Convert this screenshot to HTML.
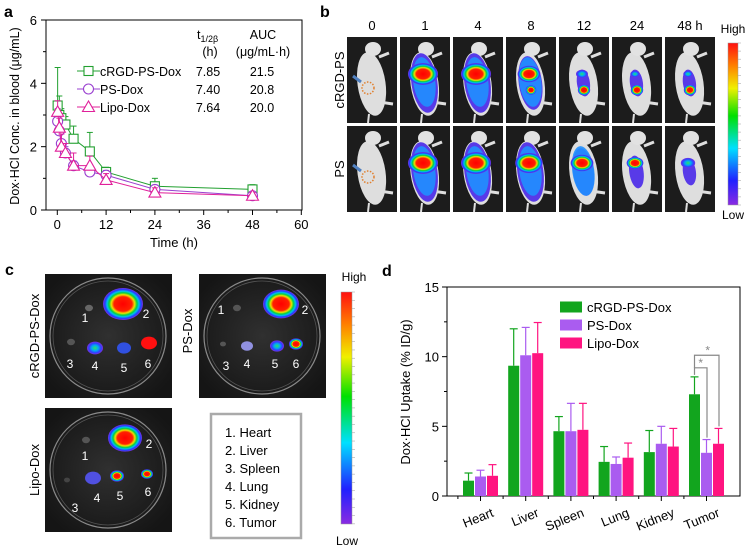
<!DOCTYPE html>
<html><head><meta charset="utf-8">
<style>
html,body{margin:0;padding:0;background:#fff;}
svg{display:block;font-family:"Liberation Sans",Arial,sans-serif;}
</style></head>
<body>
<svg id="fig" width="752" height="549" viewBox="0 0 752 549" xmlns="http://www.w3.org/2000/svg">
<defs>
 <linearGradient id="cbar" x1="0" y1="1" x2="0" y2="0">
  <stop offset="0" stop-color="#8a2be2"/><stop offset="0.15" stop-color="#2020ff"/>
  <stop offset="0.35" stop-color="#00e0ff"/><stop offset="0.55" stop-color="#00e000"/>
  <stop offset="0.72" stop-color="#f0f000"/><stop offset="0.86" stop-color="#ff8000"/>
  <stop offset="1" stop-color="#ff1010"/>
 </linearGradient>
 <radialGradient id="heat" cx="0.5" cy="0.5" r="0.5">
  <stop offset="0" stop-color="#ff0000"/><stop offset="0.45" stop-color="#ff2000"/>
  <stop offset="0.58" stop-color="#f0e000"/><stop offset="0.7" stop-color="#00d040"/>
  <stop offset="0.8" stop-color="#00c0f0"/><stop offset="0.9" stop-color="#2040ff"/>
  <stop offset="1" stop-color="#7a30e0"/>
 </radialGradient>
 <radialGradient id="heatlow" cx="0.5" cy="0.5" r="0.5">
  <stop offset="0" stop-color="#30e060"/><stop offset="0.4" stop-color="#00b0f0"/>
  <stop offset="0.75" stop-color="#3040ff"/><stop offset="1" stop-color="#7a30e0"/>
 </radialGradient>
 <radialGradient id="dishbg" cx="0.5" cy="0.5" r="0.6">
  <stop offset="0" stop-color="#303030"/><stop offset="1" stop-color="#151515"/>
 </radialGradient>
</defs>

<text x="4" y="17" font-size="16" font-weight="bold">a</text>
<text x="320" y="17" font-size="16" font-weight="bold">b</text>
<text x="5" y="275" font-size="16" font-weight="bold">c</text>
<text x="382" y="276" font-size="16" font-weight="bold">d</text>

<g id="panelA"></g>
<g id="panelB"></g>
<g id="panelC"></g>
<g id="panelD"></g>
</svg>

<script>
// ---------- Panel A data ----------
const timesA = [0.083, 0.5, 1, 2, 4, 8, 12, 24, 48];
const cRGDConc = [3.3, 3.0, 2.9, 2.7, 2.25, 1.85, 1.2, 0.75, 0.65];
const cRGDErr  = [1.2, 0.6, 0.3, 0.25, 0.4, 0.6, 0.15, 0.25, 0.15];
const psConc   = [2.8, 2.5, 2.1, 1.8, 1.4, 1.2, 1.1, 0.65, 0.45];
const psErr    = [0.4, 0.3, 0.3, 0.2, 0.15, 0.2, 0.15, 0.1, 0.1];
const lipoConc = [3.1, 2.6, 2.0, 1.8, 1.4, 1.4, 0.95, 0.55, 0.45];
const lipoErr  = [0.35, 0.3, 0.4, 0.3, 0.4, 0.3, 0.2, 0.15, 0.1];
const xTicksA = [0, 12, 24, 36, 48, 60];
const yTicksA = [0, 2, 4, 6];
const namesA = ["cRGD-PS-Dox", "PS-Dox", "Lipo-Dox"];
const halfLife = ["7.85", "7.40", "7.64"];
const aucVals = ["21.5", "20.8", "20.0"];

// ---------- Panel D data ----------
const organs = ["Heart", "Liver", "Spleen", "Lung", "Kidney", "Tumor"];
const cRGDUptake = [1.1, 9.35, 4.65, 2.45, 3.15, 7.3];
const cRGDUpErr  = [0.55, 2.65, 1.05, 1.1, 1.55, 1.25];
const psUptake   = [1.4, 10.1, 4.65, 2.3, 3.75, 3.1];
const psUpErr    = [0.45, 2.0, 2.0, 0.5, 1.25, 0.95];
const lipoUptake = [1.45, 10.25, 4.75, 2.75, 3.55, 3.75];
const lipoUpErr  = [0.8, 2.2, 1.9, 1.05, 1.3, 1.1];
const yTicksD = [0, 5, 10, 15];
const namesD = ["cRGD-PS-Dox", "PS-Dox", "Lipo-Dox"];

const NS = "http://www.w3.org/2000/svg";
function mk(parent, tag, attrs, text) {
  const e = document.createElementNS(NS, tag);
  for (const k in attrs) e.setAttribute(k, attrs[k]);
  if (text !== undefined) e.textContent = text;
  parent.appendChild(e);
  return e;
}

// ================= Panel A =================
(function(){
  const g = document.getElementById('panelA');
  const x = t => 57.3 + t * (48.8 / 12);
  const y = v => 210 - v * (190 / 6);
  const frame = mk(g, 'rect', {x:46, y:20, width:256, height:190, fill:'none', stroke:'#000', 'stroke-width':1});
  
  
  yTicksA.forEach(v => {
    mk(g,'line',{x1:46,x2:41,y1:y(v),y2:y(v),stroke:'#000'});
    const t = mk(g,'text',{x:37,y:y(v)+5,'font-size':13,'text-anchor':'end'}, String(v));
    
    
  });
  [1,3,5].forEach(v => mk(g,'line',{x1:46,x2:43,y1:y(v),y2:y(v),stroke:'#000'}));
  xTicksA.forEach(v => {
    mk(g,'line',{x1:x(v),x2:x(v),y1:210,y2:215,stroke:'#000'});
    const t = mk(g,'text',{x:x(v),y:229,'font-size':13,'text-anchor':'middle'}, String(v));
    
    
  });
  [6,18,30,42,54].forEach(v => mk(g,'line',{x1:x(v),x2:x(v),y1:210,y2:213,stroke:'#000'}));
  const xt = mk(g,'text',{x:174,y:247,'font-size':13,'text-anchor':'middle'},'Time (h)');
  
  
  const yt = mk(g,'text',{x:0,y:0,'font-size':12.5,'text-anchor':'middle',transform:'translate(19,116) rotate(-90)'},'Dox·HCl Conc. in blood (μg/mL)');
  
  

  const series = [
    {vals:cRGDConc, err:cRGDErr, color:'#22a030', mark:'square'},
    {vals:psConc, err:psErr, color:'#9a40d0', mark:'circle'},
    {vals:lipoConc, err:lipoErr, color:'#e0209a', mark:'triangle'}
  ];
  function marker(gp, m, cx, cy, color) {
    if (m==='square') return mk(gp,'rect',{x:cx-4.5,y:cy-4.5,width:9,height:9,fill:'#fff',stroke:color,'stroke-width':1.1});
    if (m==='circle') return mk(gp,'circle',{cx:cx,cy:cy,r:5,fill:'#fff',stroke:color,'stroke-width':1.1});
    return mk(gp,'polygon',{points:`${cx},${cy-6} ${cx-6},${cy+4.5} ${cx+6},${cy+4.5}`,fill:'#fff',stroke:color,'stroke-width':1.1});
  }
  series.forEach((s, si) => {
    const gp = mk(g,'g',{});
    
    
    const pts = timesA.map((t,i)=>x(t)+','+y(s.vals[i])).join(' ');
    mk(gp,'polyline',{points:pts,fill:'none',stroke:s.color,'stroke-width':1});
    timesA.forEach((t,i)=>{
      const top = y(s.vals[i]+s.err[i]);
      mk(gp,'line',{x1:x(t),x2:x(t),y1:y(s.vals[i]),y2:top,stroke:s.color});
      mk(gp,'line',{x1:x(t)-3,x2:x(t)+3,y1:top,y2:top,stroke:s.color});
    });
    timesA.forEach((t,i)=>{
      const p = marker(gp, s.mark, x(t), y(s.vals[i]), s.color);
      
      
    });
    const ly = 71 + si*18;
    const le = mk(g,'g',{});
    
    
    mk(le,'line',{x1:77,x2:100,y1:ly,y2:ly,stroke:s.color});
    marker(le, s.mark, 88.5, ly, s.color);
    mk(le,'text',{x:100,y:ly+5,'font-size':12.5},namesA[si]);
    mk(le,'text',{x:208,y:ly+5,'font-size':12.5,'text-anchor':'middle'},halfLife[si]);
    mk(le,'text',{x:262,y:ly+5,'font-size':12.5,'text-anchor':'middle'},aucVals[si]);
  });
  const h1 = mk(g,'text',{x:197,y:39,'font-size':12.5},'');
  h1.innerHTML = 't<tspan font-size="9" dy="3">1/2β</tspan>';
  
  
  mk(g,'text',{x:210,y:56,'font-size':12.5,'text-anchor':'middle'},'(h)');
  const h2 = mk(g,'text',{x:263,y:39,'font-size':12.5,'text-anchor':'middle'},'AUC');
  
  
  mk(g,'text',{x:263,y:56,'font-size':12.5,'text-anchor':'middle'},'(μg/mL·h)');
})();

// ================= Panel B =================
const timeLabelsB = ["0","1","4","8","12","24","48 h"];
const rowCRGD = [[0,0,0],[1,0.2,1],[1,0.2,1],[0.7,0.6,0.9],[0.25,0.8,0.45],[0.15,0.8,0.35],[0.15,0.8,0.3]];
const rowPS   = [[0,0,0],[1,0.2,1],[1,0.2,1],[0.9,0.2,1],[0.7,0.1,0.8],[0.45,0.1,0.55],[0.35,0.1,0.45]];
(function(){
  const g = document.getElementById('panelB');
  const tx = i => 347 + i*53;
  timeLabelsB.forEach((l,i)=>{
    const t = mk(g,'text',{x:tx(i)+25,y:30,'font-size':13,'text-anchor':'middle'},l);
    
    
  });
  const r1 = mk(g,'text',{x:0,y:0,'font-size':13,'text-anchor':'middle',transform:'translate(344,80) rotate(-90)'},'cRGD-PS');
  
  
  const r2 = mk(g,'text',{x:0,y:0,'font-size':13,'text-anchor':'middle',transform:'translate(344,169) rotate(-90)'},'PS');
  
  
  function tile(i, y0, p) {
    const x0 = tx(i);
    const t = mk(g,'g',{});
    
    
    mk(t,'rect',{x:x0,y:y0,width:50,height:86,fill:'#1c1c1c'});
    const cx = x0+24, cy = y0+43;
    mk(t,'ellipse',{cx:cx,cy:cy+4,rx:14,ry:32,fill:'#dedede',transform:`rotate(-8 ${cx} ${cy})`});
    mk(t,'ellipse',{cx:cx+2,cy:y0+12,rx:8,ry:7,fill:'#e2e2e2'});
    mk(t,'line',{x1:cx+8,y1:cy+22,x2:cx+22,y2:cy+24,stroke:'#dedede','stroke-width':3});
    mk(t,'line',{x1:cx+8,y1:y0+20,x2:cx+18,y2:y0+16,stroke:'#dedede','stroke-width':3});
    mk(t,'line',{x1:cx-2,y1:cy+34,x2:cx-3,y2:y0+86,stroke:'#dedede','stroke-width':2});
    if (p[2] > 0) mk(t,'ellipse',{cx:cx,cy:cy+3,rx:13*Math.max(0.5,p[2]),ry:30*Math.max(0.45,p[2]),fill:'#5030e8',opacity:0.95,transform:`rotate(-8 ${cx} ${cy})`});
    if (p[2] > 0.6) mk(t,'ellipse',{cx:cx,cy:cy+2,rx:11,ry:25,fill:'#2090ff',opacity:0.9,transform:`rotate(-8 ${cx} ${cy})`});
    if (p[0] > 0) mk(t,'ellipse',{cx:cx-1,cy:cy-6,rx:3+12*p[0],ry:2+9*p[0],fill:p[0]>0.4?'url(#heat)':'url(#heatlow)'});
    if (p[1] > 0.3) mk(t,'ellipse',{cx:cx+1,cy:cy+10,rx:3+4*p[1],ry:3+3*p[1],fill:'url(#heat)'});
    if (i===0) {
      mk(t,'circle',{cx:cx-3,cy:cy+8,r:6,fill:'none',stroke:'#e08030','stroke-width':1.5,'stroke-dasharray':'1.5,1.5'});
      mk(t,'path',{d:`M${cx-18} ${cy-4} L${cx-10} ${cy+2}`,stroke:'#5080c0','stroke-width':3});
    }
  }
  rowCRGD.forEach((p,i)=>tile(i,37,p));
  rowPS.forEach((p,i)=>tile(i,126,p));
  const cb = mk(g,'rect',{x:728,y:43,width:10,height:162,fill:'url(#cbar)',stroke:'#999','stroke-width':0.5});
  
  
  for (let k=0;k<=20;k++) mk(g,'line',{x1:738,x2:741,y1:43+k*8.1,y2:43+k*8.1,stroke:'#aaa','stroke-width':0.6});
  mk(g,'text',{x:733,y:33,'font-size':12,'text-anchor':'middle'},'High');
  mk(g,'text',{x:733,y:219,'font-size':12,'text-anchor':'middle'},'Low');
})();

// ================= Panel C =================
(function(){
  const g = document.getElementById('panelC');
  function dish(x0,y0,name,blobs) {
    const t = mk(g,'g',{});
    
    
    mk(t,'rect',{x:x0,y:y0,width:127,height:124,fill:'url(#dishbg)'});
    mk(t,'circle',{cx:x0+63,cy:y0+62,r:58,fill:'none',stroke:'#8a8a8a','stroke-width':1.2});
    mk(t,'circle',{cx:x0+63,cy:y0+62,r:55,fill:'none',stroke:'#555','stroke-width':0.8});
    blobs.forEach(b=>{
      if (b[3]) mk(t,'ellipse',{cx:x0+b[0],cy:y0+b[1],rx:b[2],ry:b[2]*0.8,fill:b[3]});
      mk(t,'text',{x:x0+b[4],y:y0+b[5],'font-size':12,fill:'#fff','text-anchor':'middle'},b[6]);
    });
  }
  dish(45,274,'crgd',[[44,34,4,'#666',40,48,'1'],[78,30,20,'url(#heat)',101,44,'2'],[26,68,4,'#555',25,94,'3'],[50,74,8,'url(#heatlow)',50,96,'4'],[79,74,7,'#3050e0',79,98,'5'],[104,69,8,'#ff1010',103,94,'6']]);
  dish(199,274,'ps',[[38,34,4,'#555',22,40,'1'],[82,30,18,'url(#heat)',106,40,'2'],[24,70,3,'#555',27,96,'3'],[48,72,6,'#9090e0',48,94,'4'],[78,72,7,'url(#heatlow)',76,94,'5'],[97,70,7,'url(#heat)',97,94,'6']]);
  dish(45,408,'lipo',[[41,32,4,'#555',40,52,'1'],[80,30,17,'url(#heat)',104,40,'2'],[22,72,3,'#444',30,104,'3'],[48,70,8,'#5050e0',52,94,'4'],[72,68,7,'url(#heat)',75,92,'5'],[102,66,6,'url(#heat)',103,88,'6']]);
  const l1 = mk(g,'text',{x:0,y:0,'font-size':13,'text-anchor':'middle',transform:'translate(39,336) rotate(-90)'},'cRGD-PS-Dox');
   
  const l2 = mk(g,'text',{x:0,y:0,'font-size':13,'text-anchor':'middle',transform:'translate(192,331) rotate(-90)'},'PS-Dox');
   
  const l3 = mk(g,'text',{x:0,y:0,'font-size':13,'text-anchor':'middle',transform:'translate(39,470) rotate(-90)'},'Lipo-Dox');
   
  const box = mk(g,'rect',{x:211,y:414,width:90,height:124,fill:'#fff',stroke:'#aaa','stroke-width':2.5});
   
  ["1. Heart","2. Liver","3. Spleen","4. Lung","5. Kidney","6. Tumor"].forEach((s,i)=>{
    const t = mk(g,'text',{x:225,y:437+i*18,'font-size':13},s);
     
  });
  const cb = mk(g,'rect',{x:341,y:292,width:11,height:232,fill:'url(#cbar)',stroke:'#999','stroke-width':0.5});
   
  for (let k=0;k<=28;k++) mk(g,'line',{x1:352,x2:355,y1:292+k*8.28,y2:292+k*8.28,stroke:'#aaa','stroke-width':0.6});
  mk(g,'text',{x:354,y:281,'font-size':12,'text-anchor':'middle'},'High');
  mk(g,'text',{x:347,y:545,'font-size':12,'text-anchor':'middle'},'Low');
})();

// ================= Panel D =================
(function(){
  const g = document.getElementById('panelD');
  const y = v => 496 - v * (209 / 15);
  const gx = i => 480.5 + i*45.2;
  const frame = mk(g,'rect',{x:447,y:287,width:293,height:209,fill:'none',stroke:'#000'});
   
  yTicksD.forEach(v=>{
    mk(g,'line',{x1:447,x2:442,y1:y(v),y2:y(v),stroke:'#000'});
    const t = mk(g,'text',{x:439,y:y(v)+5,'font-size':13,'text-anchor':'end'},String(v));
     
  });
  [2.5,7.5,12.5].forEach(v=>mk(g,'line',{x1:447,x2:444,y1:y(v),y2:y(v),stroke:'#000'}));
  const yt = mk(g,'text',{x:0,y:0,'font-size':13,'text-anchor':'middle',transform:'translate(410,392) rotate(-90)'},'Dox·HCl Uptake (% ID/g)');
   
  const series = [
    {vals:cRGDUptake, err:cRGDUpErr, color:'#12a51e'},
    {vals:psUptake, err:psUpErr, color:'#aa5cf0'},
    {vals:lipoUptake, err:lipoUpErr, color:'#ff1480'}
  ];
  organs.forEach((o,i)=>{
    mk(g,'line',{x1:gx(i),x2:gx(i),y1:496,y2:501,stroke:'#000'});
    if (i<5) mk(g,'line',{x1:gx(i)+22.6,x2:gx(i)+22.6,y1:496,y2:499,stroke:'#000'});
    const t = mk(g,'text',{x:0,y:0,'font-size':13,'text-anchor':'end',transform:`translate(${gx(i)+14},516) rotate(-22)`},o);
     
  });
  mk(g,'line',{x1:gx(0)-22.6,x2:gx(0)-22.6,y1:496,y2:499,stroke:'#000'});
  series.forEach((s,si)=>{
    organs.forEach((o,i)=>{
      const bx = gx(i) - 17.5 + si*12;
      const top = y(s.vals[i]);
      const et = y(s.vals[i]+s.err[i]);
      mk(g,'line',{x1:bx+5.5,x2:bx+5.5,y1:top,y2:et,stroke:s.color,'stroke-width':1.2});
      mk(g,'line',{x1:bx+1.5,x2:bx+9.5,y1:et,y2:et,stroke:s.color,'stroke-width':1.2});
      const b = mk(g,'rect',{x:bx,y:top,width:11,height:496-top,fill:s.color});
      
      
    });
    const ly = 307 + si*18;
    const le = mk(g,'g',{});
     
    mk(le,'rect',{x:560,y:ly-5.5,width:22,height:11,fill:s.color});
    mk(le,'text',{x:587,y:ly+5,'font-size':13},namesD[si]);
  });
  const i = 5;
  const xg = gx(i)-12, xp = gx(i)+0.5, xk = gx(i)+12.5;
  const br = '#888';
  const sig = mk(g,'g',{});
   
  const yInner = y(9.2), yOuter = y(10.1);
  mk(sig,'polyline',{points:`${xg},${y(cRGDUptake[i]+cRGDUpErr[i])-2} ${xg},${yInner} ${xp},${yInner} ${xp},${y(psUptake[i]+psUpErr[i])-2}`,fill:'none',stroke:br,'stroke-width':1.2});
  mk(sig,'polyline',{points:`${xg},${yInner} ${xg},${yOuter} ${xk},${yOuter} ${xk},${y(lipoUptake[i]+lipoUpErr[i])-2}`,fill:'none',stroke:br,'stroke-width':1.2});
  mk(sig,'text',{x:(xg+xp)/2,y:yInner-1,'font-size':12,fill:br,'text-anchor':'middle'},'*');
  mk(sig,'text',{x:(xg+xk)/2+1,y:yOuter-1,'font-size':12,fill:br,'text-anchor':'middle'},'*');
})();
</script>
</body></html>
